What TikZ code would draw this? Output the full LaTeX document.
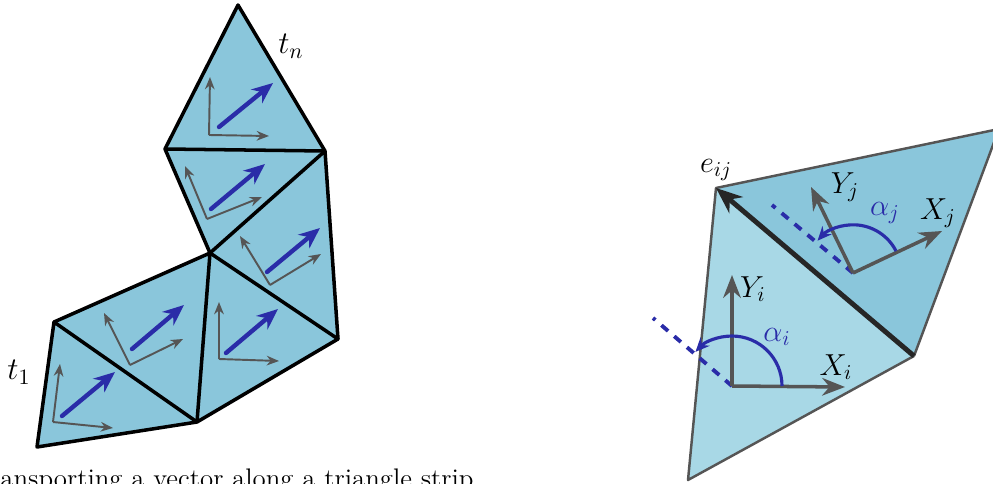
\documentclass[tikz,border=0pt]{standalone}
\usetikzlibrary{arrows.meta}

\definecolor{stripblue}{HTML}{8AC6DB}
\definecolor{paleblue}{HTML}{A8D8E6}
\definecolor{vecblue}{HTML}{2A2CA8}
\definecolor{framegray}{HTML}{555555}

\tikzset{
    stripedge/.style={line width=2pt, line join=round},
    framevec/.style={framegray, line width=1.1pt, -{Stealth[length=7pt, width=5.5pt]}},
    bluevec/.style={vecblue, line width=2.5pt, line cap=round, -{Stealth[length=12pt, width=10pt]}},
    bigframe/.style={framegray, line width=2pt, -{Stealth[length=13pt, width=10pt]}},
    anglearc/.style={vecblue, line width=1.8pt, -{Stealth[length=8pt, width=7pt]}},
    refline/.style={vecblue, line width=2.2pt, dash pattern=on 5pt off 4.6pt},
    lab/.style={font=\fontsize{14.4}{18}\selectfont, inner sep=0pt, scale=1.2},
}

\begin{document}
\begin{tikzpicture}[x=0.02cm, y=-0.02cm]
    \useasboundingbox (0,0) rectangle (993,483);
    \clip (0,0) rectangle (993,483);

    % Define strip vertices
    \coordinate (a) at (37,447);
    \coordinate (b) at (54,322);
    \coordinate (c) at (197,422);
    \coordinate (d) at (210,253);
    \coordinate (e) at (338,339);
    \coordinate (f) at (325,151);
    \coordinate (g) at (165,149);
    \coordinate (h) at (238,5);

    % Fill the strip
    \fill[stripblue] (a) -- (b) -- (d) -- (g) -- (h) -- (f) -- (e) -- (c) -- cycle;

    % Draw strip edges
    \draw[stripedge] (a) -- (b) -- (c) -- cycle;
    \draw[stripedge] (b) -- (d) -- (c);
    \draw[stripedge] (c) -- (e) -- (d);
    \draw[stripedge] (e) -- (f) -- (d);
    \draw[stripedge] (f) -- (g) -- (d);
    \draw[stripedge] (g) -- (h) -- (f);

    % Define frames of the strip
    \coordinate (o1) at (53,422);
    \coordinate (x1) at (113,428);
    \coordinate (y1) at (60,364);
    \coordinate (o2) at (130,365);
    \coordinate (x2) at (183,339);
    \coordinate (y2) at (104,313);
    \coordinate (o3) at (219,359);
    \coordinate (x3) at (279,361);
    \coordinate (y3) at (219,302);
    \coordinate (o4) at (270,285);
    \coordinate (x4) at (321,254);
    \coordinate (y4) at (240,236);
    \coordinate (o5) at (207,219);
    \coordinate (x5) at (262,197);
    \coordinate (y5) at (185,166);
    \coordinate (o6) at (209,135);
    \coordinate (x6) at (269,136);
    \coordinate (y6) at (210,77);

    % Draw frames of the strip
    \draw[framevec] (o1) -- (x1);
    \draw[framevec] (o1) -- (y1);
    \draw[framevec] (o2) -- (x2);
    \draw[framevec] (o2) -- (y2);
    \draw[framevec] (o3) -- (x3);
    \draw[framevec] (o3) -- (y3);
    \draw[framevec] (o4) -- (x4);
    \draw[framevec] (o4) -- (y4);
    \draw[framevec] (o5) -- (x5);
    \draw[framevec] (o5) -- (y5);
    \draw[framevec] (o6) -- (x6);
    \draw[framevec] (o6) -- (y6);

    % Define transported vectors
    \coordinate (s1) at (62,416);
    \coordinate (t1) at (115,372);
    \coordinate (s2) at (132,349);
    \coordinate (t2) at (184,305);
    \coordinate (s3) at (226,353);
    \coordinate (t3) at (278,309);
    \coordinate (s4) at (267,272);
    \coordinate (t4) at (320,228);
    \coordinate (s5) at (211,209);
    \coordinate (t5) at (265,164);
    \coordinate (s6) at (219,127);
    \coordinate (t6) at (273,83);

    % Draw transported vectors
    \draw[bluevec] (s1) -- (t1);
    \draw[bluevec] (s2) -- (t2);
    \draw[bluevec] (s3) -- (t3);
    \draw[bluevec] (s4) -- (t4);
    \draw[bluevec] (s5) -- (t5);
    \draw[bluevec] (s6) -- (t6);

    % Add strip labels
    \node[lab, scale=1.04] (ltn) at (291,46) {$t_n$};
    \node[lab, scale=1.04] (lt1) at (19,372) {$t_1$};
    \node[lab, scale=0.885, anchor=west] (caption) at (0,481) {ansporting a vector along a triangle strip};

    % Define the two triangles
    \coordinate (p) at (716,188);
    \coordinate (q) at (914,356);
    \coordinate (r) at (999,129);
    \coordinate (u) at (688,480);

    \fill[paleblue] (p) -- (q) -- (u) -- cycle;
    \fill[stripblue] (p) -- (q) -- (r) -- cycle;
    \draw[framegray, line width=1.4pt, line join=round] (q) -- (u) -- (p) -- (r) -- (q);

    % Draw shared edge
    \draw[line width=2.8pt, black!85, -{Stealth[length=15pt, width=12pt]}] (q) -- (p);

    % Define frames of the two triangles
    \coordinate (oi) at (732,386);
    \coordinate (xi) at (845,387);
    \coordinate (yi) at (732,275);
    \coordinate (di) at (653,318);
    \coordinate (ai) at (782,386);
    \coordinate (oj) at (853,273);
    \coordinate (xj) at (942,231);
    \coordinate (yj) at (811,187);
    \coordinate (dj) at (772,205);
    \coordinate (aj) at (896,251);

    % Draw dashed lines
    \draw[refline] (oi) -- (di);
    \draw[refline] (oj) -- (dj);

    % Draw frames of the two triangles
    \draw[bigframe] (oi) -- (xi);
    \draw[bigframe] (oi) -- (yi);
    \draw[bigframe] (oj) -- (xj);
    \draw[bigframe] (oj) -- (yj);

    % Draw angles
    \draw[anglearc] (ai) arc[start angle=0, end angle=137, radius=1cm];
    \draw[anglearc] (aj) arc[start angle=27, end angle=138, radius=0.96cm];

    % Add labels
    \node[lab] (lyi) at (753,289) {$Y_i$};
    \node[lab] (lxi) at (836,367) {$X_i$};
    \node[lab, text=vecblue] (lai) at (777,337) {$\alpha_i$};
    \node[lab] (leij) at (716,170) {$e_{ij}$};
    \node[lab] (lyj) at (845,187) {$Y_j$};
    \node[lab] (lxj) at (938,213) {$X_j$};
    \node[lab, text=vecblue] (laj) at (885,213) {$\alpha_j$};
\end{tikzpicture}
\end{document}
